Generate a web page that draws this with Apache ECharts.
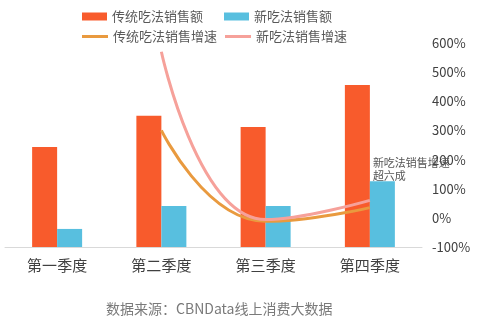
<!DOCTYPE html>
<html><head><meta charset="utf-8">
<script src="https://cdn.jsdelivr.net/npm/echarts@6/dist/echarts.min.js"></script>
<style>html,body{margin:0;padding:0;background:#fff}#c{width:477px;height:318px}</style>
</head><body><div id="c"></div>
<script>
var categories = ['第一季度', '第二季度', '第三季度', '第四季度'];
var tradSales = [3.43, 4.5, 4.12, 5.56];
var newSales = [0.62, 1.41, 1.41, 2.26];
var tradGrowth = [null, 300, -12, 35];
var newGrowth = [null, 570, -6, 60];
var rateTicks = [-100, 600, 100];
var font = '"Noto Sans CJK SC","Noto Sans",sans-serif';
var chart = echarts.init(document.getElementById('c'));
chart.setOption({
  animation: false,
  textStyle: {fontFamily: font},
  legend: [
    {data: ['传统吃法销售额', '新吃法销售额'], left: 77, top: 5, itemWidth: 25, itemHeight: 8, itemGap: 21,
     textStyle: {fontSize: 13, color: '#595959', fontFamily: font}, icon: 'rect'},
    {data: ['传统吃法销售增速', '新吃法销售增速'], left: 77, top: 25, itemWidth: 26, itemHeight: 3, itemGap: 8,
     icon: 'rect', textStyle: {fontSize: 13, color: '#595959', fontFamily: font}}
  ],
  grid: {left: 5, right: 55, top: 43, bottom: 71},
  xAxis: {type: 'category', data: categories,
    axisLine: {lineStyle: {color: '#d9d9d9'}}, axisTick: {show: false},
    axisLabel: {fontSize: 15, color: '#404040', margin: 11, fontFamily: font}},
  yAxis: [
    {type: 'value', min: 0, max: 7, show: false, splitLine: {show: false}},
    {type: 'value', position: 'right', min: rateTicks[0], max: rateTicks[1], interval: rateTicks[2],
     axisLine: {show: false}, axisTick: {show: false}, splitLine: {show: false},
     axisLabel: {formatter: '{value}%', fontSize: 13, color: '#404040', margin: 10, fontFamily: font}}
  ],
  series: [
    {name: '传统吃法销售额', type: 'bar', data: tradSales, barWidth: 25, barGap: '0%',
     itemStyle: {color: '#F85B2C'}},
    {name: '新吃法销售额', type: 'bar', data: newSales.map(function (v, i) {
       return i === 3 ? {value: v, label: {show: true, position: [3, -25], align: 'left', verticalAlign: 'top',
         formatter: '新吃法销售增速\n超六成', fontSize: 11, lineHeight: 13, color: '#555', fontFamily: font}} : v;
     }), barWidth: 25, itemStyle: {color: '#58BFDF'}},
    {name: '传统吃法销售增速', type: 'line', yAxisIndex: 1, data: tradGrowth, smooth: true,
     showSymbol: false, symbol: 'none', lineStyle: {width: 3, color: '#E99A3F'}, itemStyle: {color: '#E99A3F'}},
    {name: '新吃法销售增速', type: 'line', yAxisIndex: 1, data: newGrowth, smooth: true,
     showSymbol: false, symbol: 'none', lineStyle: {width: 3, color: '#F6A19A'}, itemStyle: {color: '#F6A19A'}}
  ],
  graphic: [
    {type: 'text', left: 106, top: 302, style: {text: '数据来源：CBNData线上消费大数据', font: '14px ' + font, fill: '#7a7a7a'}}
  ]
});
</script></body></html>
